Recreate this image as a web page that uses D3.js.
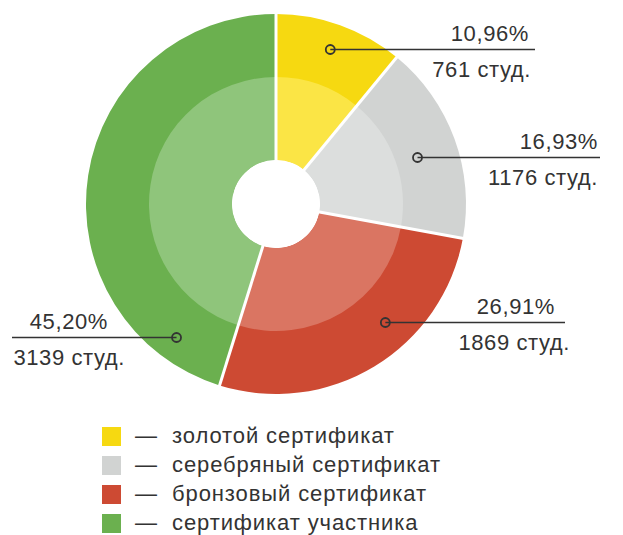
<!DOCTYPE html>
<html><head><meta charset="utf-8">
<script src="https://cdn.jsdelivr.net/npm/d3@7"></script>
<style>body{margin:0;background:#fff}svg{display:block}text{font-family:"Liberation Sans",Arial,sans-serif;fill:#333}</style>
</head><body><svg id="c" width="623" height="535"></svg>
<script>
const categories = ["золотой сертификат","серебряный сертификат","бронзовый сертификат","сертификат участника"];
const students = [761, 1176, 1869, 3139];
const percentLabels = ["10,96%","16,93%","26,91%","45,20%"];
const outerColors = ["#f6d911","#d1d3d2","#cd4a33","#6bb04f"];
const innerColors = ["#fbe545","#dcdedd","#da7562","#8fc57b"];

const svg = d3.select("#c");
const cx = 276, cy = 204, R = 190, Rmid = 127, Rhole = 44;
const g = svg.append("g").attr("transform",`translate(${cx},${cy})`);
const pie = d3.pie().sort(null).value(d=>d)(students);
const arcOuter = d3.arc().innerRadius(Rhole).outerRadius(R);
const arcInner = d3.arc().innerRadius(Rhole).outerRadius(Rmid);
g.selectAll("path.o").data(pie).join("path").attr("class","o")
  .attr("d",arcOuter).attr("fill",(d,i)=>outerColors[i]);
g.selectAll("path.i").data(pie).join("path").attr("class","i")
  .attr("d",arcInner).attr("fill",(d,i)=>innerColors[i]);
g.selectAll("line.sep").data(pie).join("line").attr("class","sep")
  .attr("x1",0).attr("y1",0)
  .attr("x2",d=>Math.sin(d.startAngle)*(R+2)).attr("y2",d=>-Math.cos(d.startAngle)*(R+2))
  .attr("stroke","#fff").attr("stroke-width",3);
g.append("circle").attr("r",Rhole).attr("fill","#fff");

// label layout (dot placed at fraction t of the slice angle, at radius dotR)
const dotT = [0.49, 0.53, 0.38, 0.12];
const dotR = [164, 149, 161, 166];
const lineEnd = [535, 600, 565, 12];
const textRight = [529, 598, 555, 108];
const cntRight = [531, 598, 570, 125];
const ann = svg.append("g");
pie.forEach((d,i)=>{
  const a = d.startAngle + (d.endAngle - d.startAngle)*dotT[i];
  const px = cx + Math.sin(a)*dotR[i], py = Math.round(cy - Math.cos(a)*dotR[i]) + 0.5;
  ann.append("line").attr("x1",px).attr("y1",py).attr("x2",lineEnd[i]).attr("y2",py)
    .attr("stroke","#333").attr("stroke-width",1.5);
  ann.append("circle").attr("cx",px).attr("cy",py).attr("r",4.5)
    .attr("fill","none").attr("stroke","#333").attr("stroke-width",1.8);
  ann.append("text").attr("x",textRight[i]).attr("y",py-9).attr("text-anchor","end")
    .attr("font-size",22).attr("letter-spacing",0.6).text(percentLabels[i]);
  ann.append("text").attr("x",cntRight[i]).attr("y",py+27).attr("text-anchor","end")
    .attr("font-size",22).attr("letter-spacing",0.6).text(students[i]+" студ.");
});

const leg = svg.append("g");
categories.forEach((c,i)=>{
  const y = 427 + i*29;
  leg.append("rect").attr("x",102).attr("y",y).attr("width",19).attr("height",19).attr("fill",outerColors[i]);
  leg.append("text").attr("x",135).attr("y",y+16).attr("font-size",22).text("—");
  leg.append("text").attr("x",172).attr("y",y+16).attr("font-size",22).attr("letter-spacing",0.9).text(c);
});
</script></body></html>
